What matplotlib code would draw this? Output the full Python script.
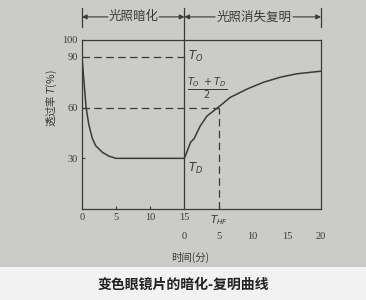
import numpy as np
import matplotlib.pyplot as plt
from matplotlib.patches import Rectangle

plt.rcParams['font.family'] = ['Liberation Serif', 'Noto Sans CJK SC']

# darkening (0-15 min, light on) then recovery (15-35 min, light off)
t = [0, 0.3, 0.6, 1.0, 1.5, 2.0, 3.0, 4.0, 5.0, 10, 15,
     15.9, 16.4, 17.3, 18.3, 19.9, 21.7, 24.2, 26.6, 29.1, 31.5, 35]
trans = [90, 75, 60, 50, 42, 37.5, 33.5, 31.2, 30, 30, 30,
         39.5, 41.5, 49, 55, 60, 66, 71, 75, 78, 80, 81.5]
T0, TD, THALF = 90, 30, 60
t_half = 20
yticks = [30, 60, 90, 100]
row1_pos = [0, 5, 10, 15, 20]
row1_lab = ['0', '5', '10', '15', '$T_{HF}$']
row2_lab = [0, 5, 10, 15, 20]

ink = '#3a3a3a'
bg = '#cbcbc7'

fig = plt.figure(figsize=(3.66, 3.0), dpi=100)
fig.patch.set_facecolor('#f2f2f2')
fig.patches.append(Rectangle((0, 1 - 267 / 300), 1, 267 / 300, transform=fig.transFigure,
                             facecolor=bg, edgecolor='none', zorder=-10))
ax = fig.add_axes([0.224, 0.303, 0.653, 0.564])
ax.set_facecolor(bg)

ax.plot(t, trans, color=ink, lw=1.1)
ax.plot([0, 15], [T0, T0], color=ink, lw=0.9, dashes=(6, 3.5))
ax.plot([0, t_half], [THALF, THALF], color=ink, lw=0.9, dashes=(6, 3.5))
ax.plot([t_half, t_half], [0, THALF], color=ink, lw=0.9, dashes=(6, 3.5))
ax.plot([15, 15], [0, 1.19], color=ink, lw=0.9, transform=ax.get_xaxis_transform(),
        clip_on=False)

ax.set_xlim(0, 35)
ax.set_ylim(0, 100)
for s in ax.spines.values():
    s.set_color(ink)
    s.set_linewidth(0.9)

ax.set_yticks(yticks)
ax.set_yticklabels([str(v) for v in yticks], fontsize=7.5, color=ink)
ax.set_xticks(row1_pos)
ax.set_xticklabels(row1_lab, fontsize=7.5, color=ink)
ax.tick_params(direction='in', length=2, color=ink, pad=3)

sec = ax.secondary_xaxis(-0.112, functions=(lambda x: x - 15, lambda x: x + 15))
sec.set_xticks(row2_lab)
sec.set_xticklabels([str(v) for v in row2_lab], fontsize=7.5, color=ink)
sec.tick_params(length=0, pad=3)
sec.spines['bottom'].set_visible(False)

ax.text(15.5, T0, '$T_O$', fontsize=8.5, color=ink, va='center')
ax.text(15.4, 71, r'$\frac{T_O\ +T_D}{2}$', fontsize=10, color=ink, va='center')
ax.text(15.5, 24, '$T_D$', fontsize=8.5, color=ink, va='center')

# header brackets
tr = ax.get_xaxis_transform()
for x in [0, 35]:
    ax.plot([x, x], [1.077, 1.19], color=ink, lw=0.9, transform=tr, clip_on=False)
hy = 1.136
ax.text(7.5, hy, '光照暗化', fontsize=9, color=ink, ha='center', va='center',
        transform=tr, family=['Noto Sans CJK SC'])
ax.text(25.2, hy, '光照消失复明', fontsize=9, color=ink, ha='center', va='center',
        transform=tr, family=['Noto Sans CJK SC'])
arrow = dict(arrowstyle='-|>', color=ink, lw=0.8, mutation_scale=7, shrinkA=0, shrinkB=0)
for x0, x1 in [(3.8, 0), (11.3, 15), (19.5, 15), (30.9, 35)]:
    ax.annotate('', xy=(x1, hy), xytext=(x0, hy), xycoords=tr, textcoords=tr,
                arrowprops=arrow, annotation_clip=False)

fig.text(0.142, 0.673, '透过率 $T$(%)', rotation=90, ha='center', va='center',
         fontsize=7.5, color=ink, family=['Noto Sans CJK SC'])
fig.text(0.52, 1 - 257 / 300, '时间(分)', ha='center', va='center', fontsize=7.5,
         color=ink, family=['Noto Sans CJK SC'])
fig.text(0.5, 1 - 285 / 300, '变色眼镜片的暗化-复明曲线', ha='center', va='center',
         fontsize=10, color='#222222', fontweight='bold', family=['Noto Sans CJK SC'])

fig.savefig('out.png', dpi=100, facecolor=fig.get_facecolor())
